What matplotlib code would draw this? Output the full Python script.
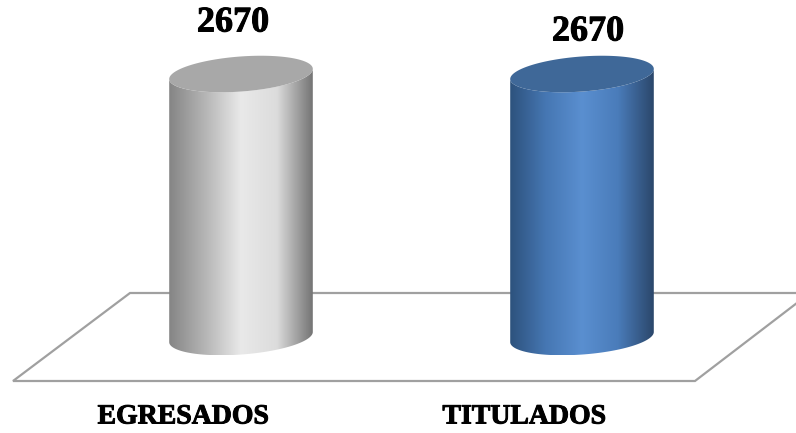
import numpy as np
import matplotlib.pyplot as plt
import matplotlib.patheffects as pe
from matplotlib.patches import Polygon
from matplotlib.colors import LinearSegmentedColormap

categories = ['EGRESADOS', 'TITULADOS']
values = [2670, 2670]

W, H = 796, 433
fig = plt.figure(figsize=(W / 100, H / 100), dpi=100)
ax = fig.add_axes([0, 0, 1, 1])

# scales: one category = 341 px, value 2670 = 263 px
px_x = 341.0
px_y = 263.0 / 2670
x0_px, base_px = 241.0, 96.0  # pixel position of category 0 / value 0 (from bottom)
ax.set_xlim(-x0_px / px_x, (W - x0_px) / px_x)
ax.set_ylim(-base_px / px_y, (H - base_px) / px_y)
ax.axis('off')


def px2data(px, py):
    # pixels measured from top-left of the image
    return (np.asarray(px) - x0_px) / px_x, (H - np.asarray(py) - base_px) / px_y


# floor
fx, fy = px2data([130, 810, 695, 13], [293, 293, 381, 381])
ax.add_patch(Polygon(np.column_stack([fx, fy]), closed=True, facecolor='white',
                     edgecolor='#a0a0a0', lw=1.6, zorder=1))

styles = [
    dict(side=['#858585', '#b5b5b5', '#e9e9e9', '#dcdcdc', '#747474'], top='#a8a8a8'),
    dict(side=['#2d527d', '#4677b3', '#5a8fd0', '#4a7cba', '#2b476b'], top='#3f6898'),
]
a_px, b_px, tilt = 72.0, 17.5, np.radians(4.3)


def ellipse(cx, cy, t):
    # cx, cy in data; returns data coords
    ex = a_px * np.cos(t) * np.cos(tilt) - b_px * np.sin(t) * np.sin(tilt)
    ey = a_px * np.cos(t) * np.sin(tilt) + b_px * np.sin(t) * np.cos(tilt)
    return cx + ex / px_x, cy + ey / px_y


bold = [pe.withStroke(linewidth=0.7, foreground='black')]

for i, (cat, v) in enumerate(zip(categories, values)):
    st = styles[i]
    t_low = np.linspace(np.pi, 2 * np.pi, 80)
    tx, ty = ellipse(i, v, t_low)
    bx, by = ellipse(i, 0, t_low[::-1])
    body = Polygon(np.column_stack([np.r_[tx, bx], np.r_[ty, by]]), closed=True,
                   facecolor='none', edgecolor='none', zorder=3)
    ax.add_patch(body)
    cmap = LinearSegmentedColormap.from_list('c%d' % i, st['side'])
    grad = np.linspace(0, 1, 256)[None, :]
    xmin, xmax = np.r_[tx, bx].min(), np.r_[tx, bx].max()
    ymin, ymax = np.r_[ty, by].min(), np.r_[ty, by].max()
    im = ax.imshow(grad, cmap=cmap, aspect='auto', extent=[xmin, xmax, ymin, ymax],
                   interpolation='bilinear', zorder=3)
    im.set_clip_path(body)

    t_all = np.linspace(0, 2 * np.pi, 160)
    ux, uy = ellipse(i, v, t_all)
    ax.add_patch(Polygon(np.column_stack([ux, uy]), closed=True,
                         facecolor=st['top'], edgecolor='none', zorder=4))

    # value label
    ax.text(i - [8, -6][i] / px_x, v + [51, 42][i] / px_y, f'{v}', ha='center', va='center',
            fontsize=26, fontweight='bold', family='Liberation Serif', zorder=5,
            path_effects=bold)
    # category label
    cx_, cy_ = px2data(0, 417)
    ax.text(i - 58 / px_x, cy_, cat, ha='center', va='center',
            fontsize=20, fontweight='bold', family='Liberation Serif', zorder=5,
            path_effects=bold)

fig.savefig('out.png', dpi=100)
